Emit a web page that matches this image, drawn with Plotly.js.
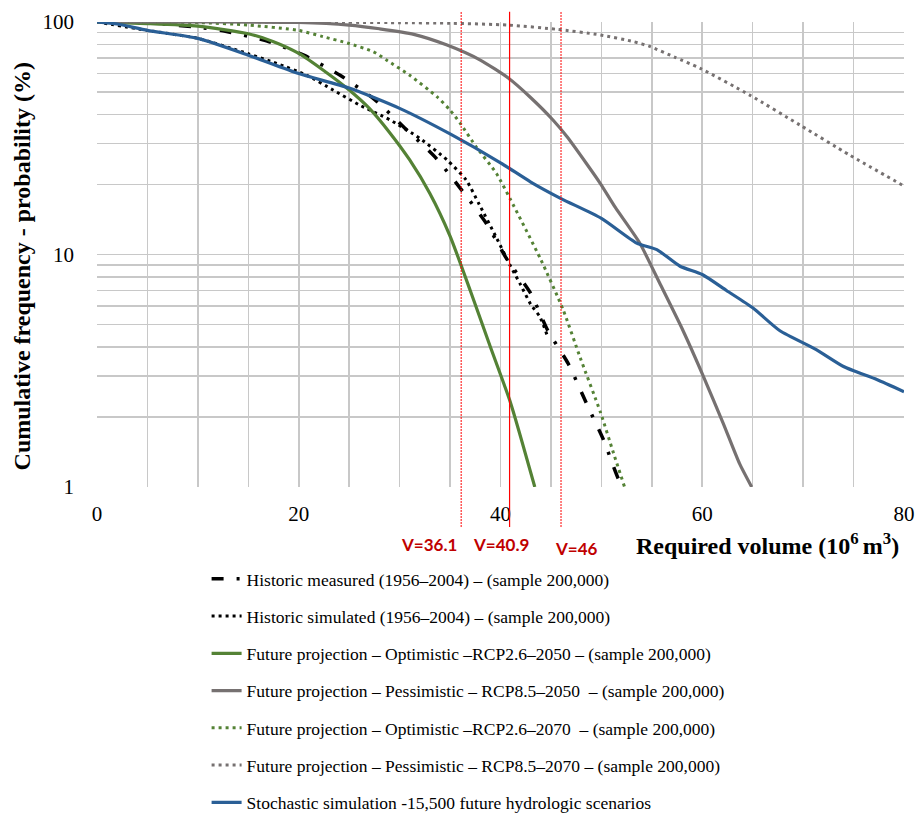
<!DOCTYPE html>
<html>
<head>
<meta charset="utf-8">
<script src="https://cdn.plot.ly/plotly-3.0.1.min.js"></script>
<style>html,body{margin:0;padding:0;background:#fff;}#chart{width:923px;height:817px;}</style>
</head>
<body>
<div id="chart"></div>
<script>
// ---- Data ----
const histMeasuredX = [0, 5, 10, 12.5, 16.8, 20.5, 24.1, 27.5, 30.5, 33.5, 36, 38.6, 40.6, 43, 44.7, 46.7, 48.5, 50.2, 51.7, 52.2];
const histMeasuredY = [100, 99, 95, 91.7, 83, 72, 59, 46.5, 35, 26.3, 19.3, 13.6, 9.6, 6.8, 4.7, 3.4, 2.3, 1.6, 1.08, 1.0];

const histSimX = [0, 5, 10, 15, 17.8, 20.8, 23.4, 26, 29, 32, 34.7, 36.6, 37.9, 39.6, 41, 42, 43, 43.9, 44.7];
const histSimY = [100, 92, 85, 73, 66.4, 59, 51, 44, 38, 31.6, 25.5, 20.9, 16.4, 11.8, 8.9, 7.4, 6.1, 5.4, 4.4];

const opt2050X = [0, 5, 10, 15, 17.5, 20, 22.4, 25, 27, 29, 31, 33, 35, 37, 39, 41, 43.4];
const opt2050Y = [100, 98.5, 96, 89, 82.3, 73.3, 62.2, 51, 42.5, 33.5, 25.5, 18.3, 12, 7, 4, 2.3, 1.0];

const pes2050X = [0, 10, 20, 25, 28, 31.4, 34.7, 38, 40.8, 42.9, 45.2, 46.6, 48.5, 49.9, 51.4, 53.8, 55.8, 58.1, 60.1, 62.1, 63.7, 64.9];
const pes2050Y = [100, 100, 99.6, 97, 93.5, 88.5, 79.6, 68.6, 57.3, 47.7, 37.9, 32.1, 24.7, 20.2, 15.9, 11.2, 7.5, 4.7, 3.0, 1.87, 1.26, 1.0];

const opt2070X = [0, 10, 15, 20, 22.4, 24.9, 27.4, 28.7, 31, 33.7, 35, 36, 37.6, 39.6, 41, 44, 46.2, 47.9, 49.9, 51.2, 52.3];
const opt2070Y = [100, 99.5, 97, 92, 86.5, 81, 74.5, 68.6, 59, 47.7, 41.8, 36.7, 29, 22.3, 17.2, 9.5, 5.8, 3.6, 2.1, 1.4, 1.0];

const pes2070X = [0, 20, 30, 35, 40.8, 45.6, 49.9, 53.2, 54.8, 57.3, 59.8, 64.7, 69.7, 74.6, 80];
const pes2070Y = [100, 100, 99.3, 98.8, 97, 93, 88, 82.3, 78.5, 70.5, 63.2, 48.5, 36, 26.8, 19.7];

const stochX = [0, 2, 5, 10, 15, 20, 25, 30, 35, 40, 43, 46, 50, 53.5, 55.5, 57.8, 60, 62.4, 65, 67.7, 71.3, 74, 77.3, 80];
const stochY = [100, 98, 92, 85, 72, 60, 52, 42.5, 33, 24.8, 20.5, 17.4, 14.3, 11.2, 10.5, 8.9, 8.2, 7.0, 5.9, 4.7, 3.9, 3.3, 2.9, 2.57];

const seriesNames = [
  "Historic measured (1956–2004) – (sample 200,000)",
  "Historic simulated (1956–2004) – (sample 200,000)",
  "Future projection – Optimistic –RCP2.6–2050 – (sample 200,000)",
  "Future projection – Pessimistic – RCP8.5–2050 \u00a0– (sample 200,000)",
  "Future projection – Optimistic –RCP2.6–2070 \u00a0– (sample 200,000)",
  "Future projection – Pessimistic – RCP8.5–2070 – (sample 200,000)",
  "Stochastic simulation -15,500 future hydrologic scenarios"
];

const volumeMarks = [36.1, 40.9, 46];
const volumeLabels = ["V=36.1", "V=40.9", "V=46"];

const xTickVals = [0, 20, 40, 60, 80];
const xTickText = ["0", "20", "40", "60", "80"];
const xMinorVals = [5,10,15,25,30,35,45,50,55,65,70,75];
const yTickVals = [1, 10, 100];
const yTickText = ["1", "10", "100"];
const yMinorVals = [2,3,4,5,6,7,8,9,20,30,40,50,60,70,80,90];

// ---- Styles ----
const GREEN = "#548235", GRAY = "#767171", BLUE = "#2a5f96", BLACK = "#000000";
const serif = "Liberation Serif, Times New Roman, serif";
const GRID = "#c8c8c8";

function tr(x, y, name, color, width, dash, grp) {
  return {x: x, y: y, name: name, type: "scatter", mode: "lines",
          line: {color: color, width: width, dash: dash, shape: "spline", smoothing: 0.6},
          legendgroup: grp, hoverinfo: "skip"};
}

const traces = [
  tr(histMeasuredX, histMeasuredY, seriesNames[0], BLACK, 3.5, "12px,13px,3px,13px", "g0"),
  tr(histSimX, histSimY, seriesNames[1], BLACK, 3, "3px,4px", "g1"),
  tr(opt2050X, opt2050Y, seriesNames[2], GREEN, 3.2, "solid", "g2"),
  tr(pes2050X, pes2050Y, seriesNames[3], GRAY, 3.2, "solid", "g3"),
  tr(opt2070X, opt2070Y, seriesNames[4], GREEN, 3, "3px,4px", "g4"),
  tr(pes2070X, pes2070Y, seriesNames[5], GRAY, 3, "3px,4px", "g5"),
  tr(stochX, stochY, seriesNames[6], BLUE, 3.2, "solid", "g6")
];

const shapes = volumeMarks.map((v, i) => ({
  type: "line", xref: "x", yref: "paper", x0: v, x1: v, y0: -0.086, y1: 1.022,
  line: {color: "#ff0000", width: i === 1 ? 1.2 : 1, dash: i === 1 ? "solid" : "2px,1px"},
  layer: "above"
}));

const labelShift = [-32, -9, 15];
const labelY = [-0.124, -0.124, -0.132];
const annotations = volumeLabels.map((t, i) => ({
  text: "<b>" + t + "</b>", xref: "x", yref: "paper", x: volumeMarks[i], y: labelY[i],
  xshift: labelShift[i], showarrow: false, xanchor: "center", yanchor: "middle",
  font: {family: "Lato, Open Sans, sans-serif", size: 17, color: "#c00000"}
}));
annotations.push({
  text: "<b>Required volume (10<sup>6 </sup>m<sup>3</sup>)</b>", xref: "paper", yref: "paper",
  x: 0.996, y: -0.122, xanchor: "right", yanchor: "middle", showarrow: false,
  font: {family: serif, size: 24, color: "#000"}
});
annotations.push({
  text: "<b>Cumulative frequency - probability (%)</b>", xref: "paper", yref: "paper",
  x: -0.093, y: 0.5, yshift: -12, xanchor: "center", yanchor: "middle", textangle: -90, showarrow: false,
  font: {family: serif, size: 24, color: "#000"}
});

const layout = {
  width: 923, height: 817,
  margin: {l: 97, r: 19, t: 22, b: 330, autoexpand: false},
  paper_bgcolor: "#fff", plot_bgcolor: "#fff",
  showlegend: true,
  legend: {x: 0.1358, y: -0.159, xanchor: "left", yanchor: "top",
           orientation: "v", font: {family: serif, size: 17.5, color: "#000"}, tracegroupgap: 11.5,
           bgcolor: "rgba(0,0,0,0)", itemclick: false},
  xaxis: {type: "linear", range: [0, 80], tickmode: "array", tickvals: xTickVals, ticktext: xTickText,
          showgrid: true, gridcolor: GRID, gridwidth: 1.6, zeroline: false, automargin: false,
          minor: {tickmode: "array", tickvals: xMinorVals, showgrid: true, gridcolor: GRID, gridwidth: 1.6, ticks: ""},
          showline: false, ticks: "", ticklabelstandoff: 12,
          tickfont: {family: serif, size: 21, color: "#000"}, fixedrange: true},
  yaxis: {type: "log", range: [0, 2], tickmode: "array", tickvals: yTickVals, ticktext: yTickText,
          showgrid: true, gridcolor: GRID, gridwidth: 1.6, zeroline: false, automargin: false,
          minor: {tickmode: "array", tickvals: yMinorVals, showgrid: true, gridcolor: GRID, gridwidth: 1.6, ticks: ""},
          showline: false, ticks: "", ticklabelstandoff: 22,
          tickfont: {family: serif, size: 21, color: "#000"}, fixedrange: true},
  shapes: shapes,
  annotations: annotations
};

Plotly.newPlot("chart", traces, layout, {displayModeBar: false, staticPlot: true});
</script>
</body>
</html>
